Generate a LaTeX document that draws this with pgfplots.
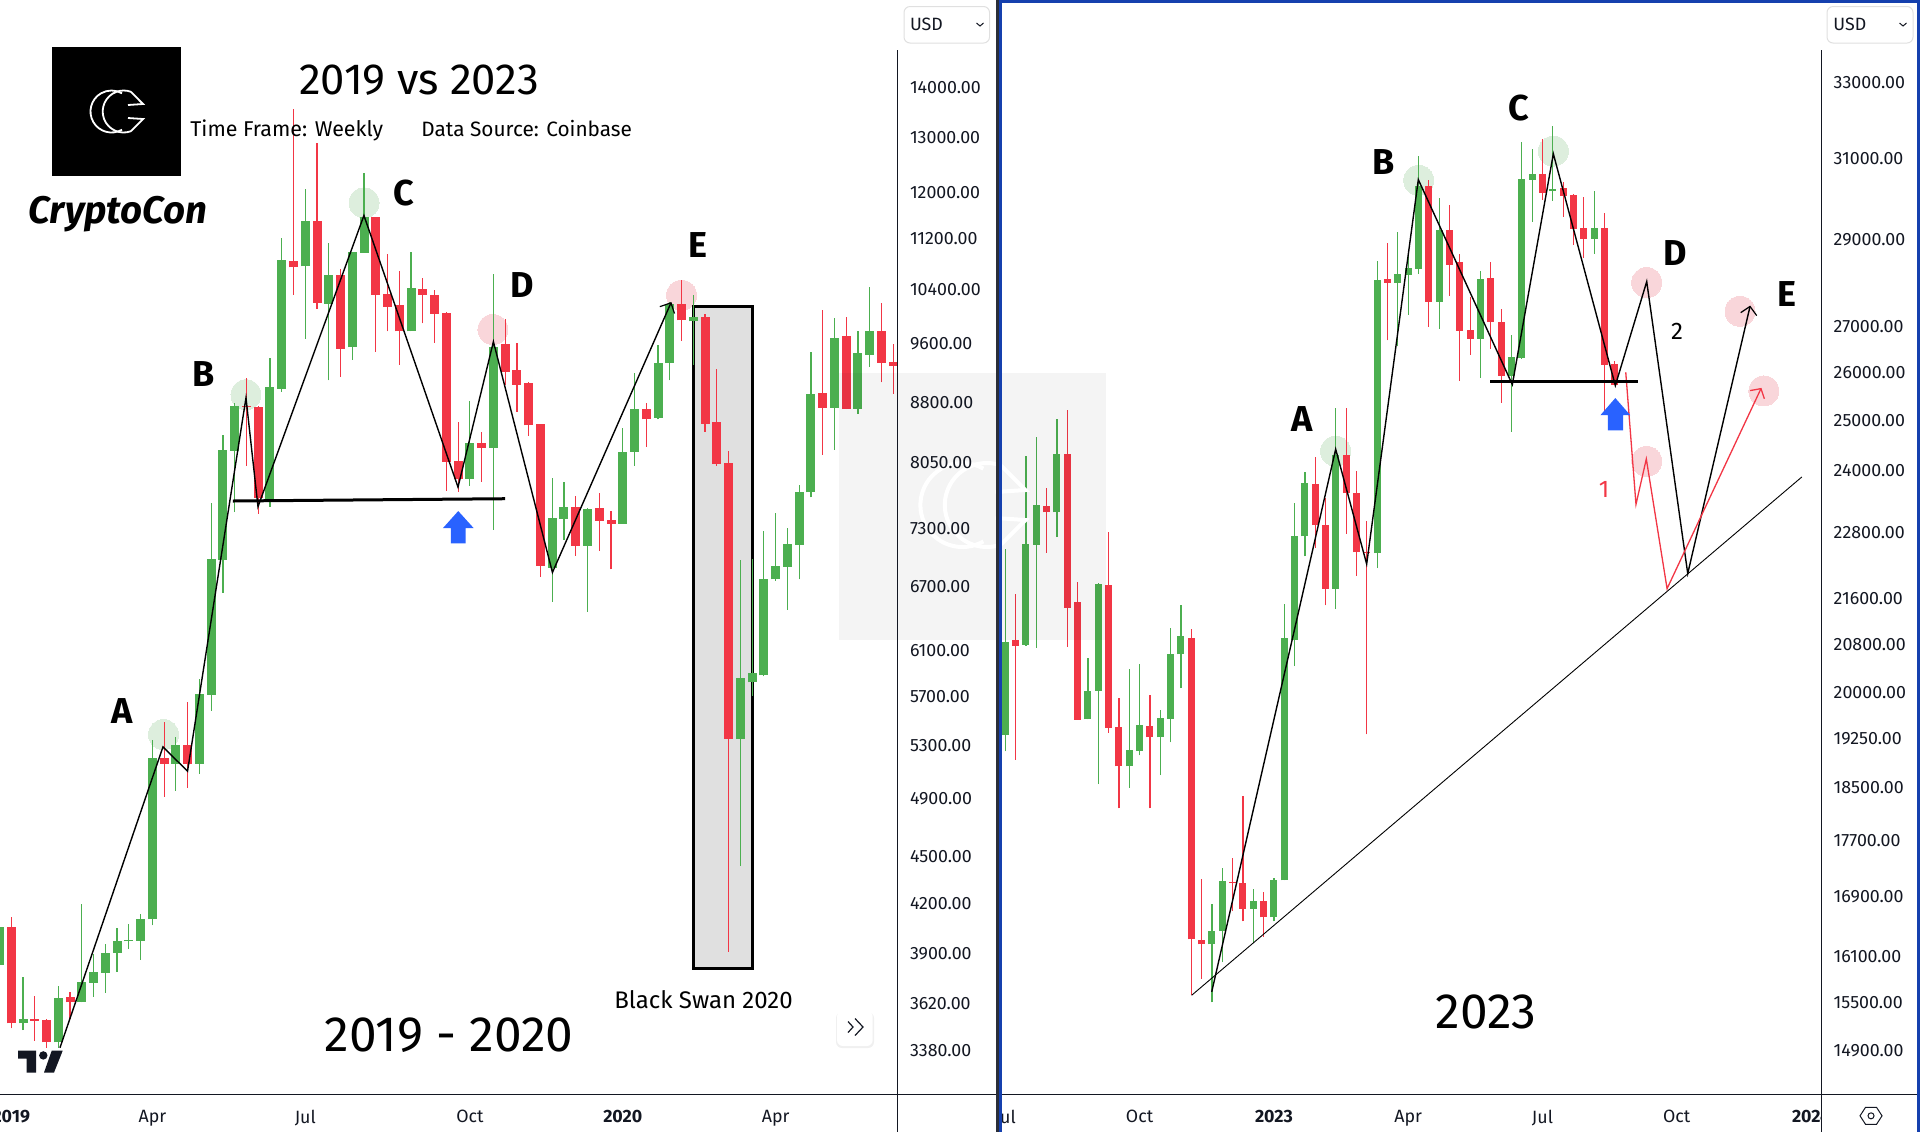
\documentclass[border=0pt]{standalone}
\usepackage{fontspec}
\setmainfont{Fira Sans}
\usepackage{pgfplots}
\usepackage{pgfplotstable}
\pgfplotsset{compat=1.18}
\definecolor{cgreen}{HTML}{4CAF50}
\definecolor{cred}{HTML}{F23645}
\definecolor{cblue}{HTML}{2962FF}
\definecolor{cgc}{HTML}{DDEEDD}
\definecolor{cpc}{HTML}{F9D6DA}
\definecolor{cframe}{HTML}{1540AE}
\definecolor{darkf}{HTML}{2A2E39}
\definecolor{ink}{HTML}{131722}
% x low high bodylow bodyhigh
\pgfplotstableread{
x low high blow bhigh
0 3833 4049 3833 4049
2 3480 3766 3515 3540
5 3390 3716 3417 3649
7 3625 4193 3625 3738
8 3656 3895 3731 3793
9 3677 3953 3788 3900
10 3794 4043 3900 3971
11 3923 4067 3967 3977
12 3861 4133 3971 4103
13 4061 5343 4097 5202
15 4955 5367 5157 5302
17 5082 5840 5157 5718
18 5577 7579 5709 6979
19 6637 8383 6962 8195
20 7476 8785 8183 8748
23 7536 9391 7612 8999
24 8931 11213 8972 10853
26 9659 12054 10744 11483
28 9080 11128 10169 10603
30 9364 10979 9535 10979
31 10963 12326 10963 11550
35 9761 10979 9761 10415
40 7776 8810 7857 8283
42 7287 10618 8220 9543
47 6548 7868 6889 7417
48 7178 7822 7406 7536
50 6455 7525 7113 7514
53 7352 8471 7352 8172
54 8008 9181 8172 8710
56 8572 9572 8597 9323
57 9080 10198 9315 10169
59 9296 10305 9908 9979
63 4437 6969 5347 5848
64 5701 6979 5814 5892
65 5866 7276 5875 6778
66 6758 7465 6768 6909
67 6474 7308 6899 7135
68 6768 7787 7124 7699
69 7641 9472 7699 8904
71 8195 9951 8723 9674
73 8647 9761 8710 9458
74 9269 10430 9431 9761
}\leftup
\pgfplotstableread{
x low high blow bhigh
1 3489 4112 3515 4049
3 3426 3660 3529 3540
4 3390 3540 3417 3534
6 3536 3683 3625 3655
14 4910 5480 5157 5202
16 4978 5650 5157 5302
21 8008 9107 8735 8748
22 7460 8748 7635 8735
25 10305 13564 10728 10838
27 10096 12899 10183 11483
29 9127 10697 9514 10603
32 9472 11550 10305 11550
33 9761 10947 10125 10321
34 9296 10666 9761 10154
36 9878 10556 10305 10399
37 9601 10383 10023 10305
38 7717 10052 8055 10038
39 7705 8534 7857 8067
41 7822 8421 8220 8283
43 9026 9938 9188 9586
44 8672 9601 9026 9215
45 8371 9066 8496 9040
46 6798 8509 6909 8509
49 7010 7659 7113 7536
51 7060 7694 7384 7525
52 6869 7493 7352 7395
55 8233 8785 8572 8710
58 9630 10532 9923 10169
60 8421 10014 8521 9979
61 8008 9229 8025 8534
62 3906 8176 5347 8043
70 8137 10081 8723 8918
72 8704 9965 8704 9703
75 9053 10183 9323 9761
76 8904 9586 9283 9337
}\leftdown
\pgfplotstableread{
x low high blow bhigh
0 19043 22489 19296 20836
2 20766 24276 20784 22583
3 20732 24660 22564 23318
5 22704 25028 23173 24315
8 19550 20564 19550 20014
9 18535 21873 20014 21855
12 18481 20380 18811 19064
13 18980 20464 19055 19464
15 18673 19704 19262 19576
16 19186 21079 19560 20630
17 20054 21478 20619 20940
20 15494 16791 16249 16432
21 16013 17304 16426 17121
24 16269 17008 16735 16838
26 16559 17163 16613 17135
27 17129 21496 17129 20905
28 20422 23355 20871 22734
29 22349 23962 22721 23747
32 21402 25253 21764 24296
36 22133 28495 22407 28056
38 26555 29184 27986 28195
39 27260 28750 28171 28333
40 28195 31061 28310 30307
42 26949 30005 27549 29232
46 25886 28264 26726 28079
49 24762 26815 25928 26333
50 26290 31421 26312 30484
51 29425 31238 30458 30609
53 29931 31840 30164 30232
57 28657 30181 29015 29280
}\rightup
\pgfplotstableread{
x low high blow bhigh
1 18917 21674 20766 20857
4 22416 23648 23173 23299
6 20749 25212 21426 24315
7 19544 21891 19544 21530
10 19336 22809 19416 21837
11 18170 19897 18811 19432
14 18170 19947 19262 19448
18 15583 21062 16315 20905
19 15797 17148 16249 16310
22 16697 17446 17093 17107
23 16559 18358 16735 17093
25 16350 16965 16613 16838
30 22511 24256 22928 23727
31 21466 23451 21764 22941
33 22771 25253 23540 24296
34 22000 23982 22421 23540
35 19309 23000 22416 22434
37 26688 28919 27986 28079
41 26993 30458 27549 30307
43 27686 29834 28403 29232
44 25822 28657 26904 28472
45 26376 27662 26726 26926
47 26504 28472 27104 28102
48 25356 27393 25928 27104
52 29955 31500 30131 30609
54 29545 30408 30056 30257
55 28870 30106 29256 30081
56 28565 30030 29015 29280
58 25151 29642 26163 29280
59 25737 26248 25737 26184
}\rightdown
\newcommand\candles[3]{%
  \addplot[draw=none,mark=none,forget plot,error bars/.cd,y dir=plus,y explicit,error mark=none,
    error bar style={line width=0.6pt,color=#2,line cap=butt}]
    table[x=x,y=low,y error plus expr=\thisrow{high}-\thisrow{low}]{#1};
  \addplot[draw=none,mark=none,forget plot,error bars/.cd,y dir=plus,y explicit,error mark=none,
    error bar style={line width=#3,color=#2,line cap=butt}]
    table[x=x,y=blow,y error plus expr=\thisrow{bhigh}-\thisrow{blow}]{#1};
}
\pgfplotsset{tvaxis/.style={
  scale only axis,height=547.25pt,
  axis line style={draw=none},major tick length=0pt,minor tick length=0pt,
  ytick pos=right,yticklabel pos=right,xtick pos=bottom,
  tick label style={font=\fontsize{8.9}{10}\selectfont,text=ink},
  yticklabel style={anchor=west,inner sep=0pt},
  xticklabel style={anchor=north,inner sep=0pt,yshift=-7.8pt},
  clip=true,clip marker paths=true,
}}
% CC mark: centre x, centre y, scale, line width
\newcommand\ccmark[4]{%
 \begin{scope}[shift={(#1,#2)},scale=#3,line width=#4,line join=miter]
  \draw (-5.3,0) ++(60:21) arc[start angle=60,end angle=300,radius=21];
  \draw (6.9,0) ++(70:21) arc[start angle=70,end angle=290,radius=21];
  \draw (14.1,19.7) -- (26.2,7.5) -- (11.2,6.5);
  \draw (14.1,-19.7) -- (26.2,-7.5) -- (11.2,-6.5);
 \end{scope}}
\begin{document}
\begin{tikzpicture}
\useasboundingbox (0,0) rectangle (960pt,-566pt);
\fill[white] (0,0) rectangle (960pt,-566pt);
% watermark in the price scale, under the labels
\begin{scope}[x=0.5pt,y=-0.5pt]
 \fill[black!4.5] (897,373) rectangle (996,640);
 \begin{scope}
  \clip (897,373) rectangle (996,640);
  \begin{scope}[white]\ccmark{973}{505}{2}{2pt}\end{scope}
 \end{scope}
\end{scope}
% LEFT PANEL
\begin{axis}[tvaxis,ymode=log,at={(0pt,-547.25pt)},anchor=south west,width=448.5pt,
  xmin=0.0425,xmax=76.32,ymin=3164.5,ymax=15926,
  xtick={1,13,26,40,53,66},xticklabels={\textbf{2019},Apr,Jul,Oct,\textbf{2020},Apr},
  ytick={14000,13000,12000,11200,10400,9600,8800,8050,7300,6700,6100,5700,5300,4900,4500,4200,3900,3620,3380},
  yticklabels={14000.00,13000.00,12000.00,11200.00,10400.00,9600.00,8800.00,8050.00,7300.00,6700.00,6100.00,5700.00,5300.00,4900.00,4500.00,4200.00,3900.00,3620.00,3380.00},
  yticklabel style={xshift=6.3pt,yshift=-0.3pt}]
\addplot[only marks,mark=*,mark size=7.5pt,draw=cgc,fill=cgc,mark options={draw=cgc,fill=cgc,line width=0pt}] coordinates {(13.95,5383)(20.96,8891)(31,11803)};
\addplot[only marks,mark=*,mark size=7.5pt,draw=cpc,fill=cpc,mark options={draw=cpc,fill=cpc,line width=0pt}] coordinates {(41.96,9790)(58,10297)};
\addplot[draw=black,fill=black!12,line width=1.6pt,line cap=rect,line join=miter] coordinates {(59.01,10132)(64.03,10132)(64.03,3811)(59.01,3811)(59.01,10132)};
\candles{\leftup}{cgreen}{4.5pt}
\candles{\leftdown}{cred}{4.5pt}
\addplot[black,line width=0.7pt,line join=miter] coordinates {(5.14,3390)(13.9,5286)(15.99,5100)(20.96,8850)(21.98,7536)(30.99,11584)(38.99,7758)(42,9615)(47.02,6839)(57.1,10183)};
\addplot[black,line width=0.6pt] coordinates {(56.15,10125)(57.1,10183)(57.4,10023)};
\addplot[black,line width=1.5pt] coordinates {(19.85,7601)(43,7626)};
\addplot[draw=none,fill=cblue] coordinates {(37.71,7302)(39.01,7489)(40.32,7302)(39.64,7302)(39.64,7139)(38.39,7139)(38.39,7302)(37.71,7302)};
\end{axis}
% RIGHT PANEL
\begin{axis}[tvaxis,ymode=log,at={(501pt,-547.25pt)},anchor=south west,width=409.85pt,
  xmin=-0.32,xmax=79.03,ymin=14365,ymax=35306,
  xtick={0,13,26,39,52,65,78},xticklabels={Jul,Oct,\textbf{2023},Apr,Jul,Oct,\textbf{2024}},
  ytick={33000,31000,29000,27000,26000,25000,24000,22800,21600,20800,20000,19250,18500,17700,16900,16100,15500,14900},
  yticklabels={33000.00,31000.00,29000.00,27000.00,26000.00,25000.00,24000.00,22800.00,21600.00,20800.00,20000.00,19250.00,18500.00,17700.00,16900.00,16100.00,15500.00,14900.00},
  yticklabel style={xshift=5.8pt,yshift=-0.3pt}]
\addplot[only marks,mark=*,mark size=7.5pt,draw=cgc,fill=cgc,mark options={draw=cgc,fill=cgc,line width=0pt}] coordinates {(31.98,24366)(40.02,30440)(53.05,31179)};
\addplot[only marks,mark=*,mark size=7.5pt,draw=cpc,fill=cpc,mark options={draw=cpc,fill=cpc,line width=0pt}] coordinates {(62.09,27987)(62.09,24164)(71.12,27333)(73.43,25602)};
\candles{\rightup}{cgreen}{3.5pt}
\candles{\rightdown}{cred}{3.5pt}
\addplot[black,line width=0.45pt] coordinates {(18.04,15583)(77.1,23854)};
\addplot[black,line width=0.7pt,line join=miter] coordinates {(19.98,15628)(31.98,24406)(34.98,22208)(39.98,30458)(49.08,25737)(53.05,31111)(59.05,25716)(62.09,28010)(66.06,22036)(72.09,27444)};
\addplot[black,line width=0.6pt] coordinates {(71.19,27304)(72.09,27444)(72.74,27237)};
\addplot[cred,line width=0.65pt,line join=miter] coordinates {(60.06,25998)(61.05,23323)(62.05,24211)(64.06,21764)(73.15,25651)};
\addplot[cred,line width=0.65pt] coordinates {(72.09,25609)(73.15,25651)(73.48,25438)};
\addplot[black,line width=1.5pt] coordinates {(46.92,25794)(61.22,25794)};
\addplot[draw=none,fill=cblue] coordinates {(57.6,25096)(59.05,25453)(60.5,25096)(59.8,25096)(59.8,24789)(58.34,24789)(58.34,25096)(57.6,25096)};
\end{axis}
% OVERLAY, pixel coordinates
\begin{scope}[x=0.5pt,y=-0.5pt]
 \fill[black,opacity=0.045] (839,373) rectangle (897,640);
 \fill[black,opacity=0.045] (1002,373) rectangle (1106,640);
 \begin{scope}
  \clip (1002,373) rectangle (1106,640);
  \begin{scope}[white]\ccmark{973}{505}{2}{2pt}\end{scope}
 \end{scope}
 % masks for clipped tick labels
 \fill[white] (898,1096) rectangle (996,1132);
 \fill[white] (1822.3,1096) rectangle (1917,1132);
 % chrome
 \draw[ink,line width=0.5pt] (897,50) -- (897,1132);
 \draw[ink,line width=0.5pt] (1821.7,50) -- (1821.7,1132);
 \draw[ink,line width=0.5pt] (0,1094.5) -- (996,1094.5);
 \draw[ink,line width=0.5pt] (1002,1094.5) -- (1917,1094.5);
 \fill[darkf] (996,0) rectangle (999,1132);
 \fill[cframe] (999,0) rectangle (1002,1132);
 \fill[cframe] (999,0) rectangle (1920,3);
 \fill[cframe] (1917,0) rectangle (1920,1132);
 % USD boxes
 \draw[black!12,line width=0.5pt,fill=white,rounded corners=3pt] (904,6.5) rectangle (989.5,43);
 \draw[black!12,line width=0.5pt,fill=white,rounded corners=3pt] (1827,6.5) rectangle (1913,43);
 \node[anchor=west,inner sep=0pt,text=ink,font=\fontsize{8.9}{10}\selectfont] at (909.6,24.5) {USD};
 \node[anchor=west,inner sep=0pt,text=ink,font=\fontsize{8.9}{10}\selectfont] at (1833,24.5) {USD};
 \draw[ink,line width=0.5pt] (976.5,23) -- (980,26) -- (983.5,23);
 \draw[ink,line width=0.5pt] (1899.5,23) -- (1903,26) -- (1906.5,23);
 % scroll button
 \fill[black,opacity=0.06,rounded corners=3pt] (836,1012) rectangle (874,1048);
 \fill[white,rounded corners=3pt] (837,1010.6) rectangle (872.7,1046);
 \draw[ink,line width=0.6pt] (848,1021.5) -- (853,1027) -- (848,1032.5);
 \draw[ink,line width=0.6pt] (855,1018.5) -- (863,1027) -- (855,1035.5);
 % settings icon
 \draw[ink,line width=0.5pt] (1860,1115.8) -- (1865.5,1107.3) -- (1876.5,1107.3) -- (1882,1115.8) -- (1876.5,1124.3) -- (1865.5,1124.3) -- cycle;
 \draw[ink,line width=0.5pt] (1871,1115.8) circle[radius=3];
 % TV logo
 \fill[ink] (18,1050.7) -- (36,1050.7) -- (36,1072.6) -- (26.7,1072.6) -- (26.7,1058.7) -- (18,1058.7) -- cycle;
 \fill[ink] (43.3,1055.4) circle[radius=4.2];
 \fill[ink] (51.7,1050.7) -- (62.7,1050.7) -- (54,1072.6) -- (44,1072.6) -- cycle;
 % black logo
 \fill[black] (52,47) rectangle (181,176);
 \begin{scope}[white]\ccmark{116.8}{111.5}{1}{0.9pt}\end{scope}
 % texts
 \node[font=\bfseries\itshape\fontsize{19.2}{22}\selectfont] at (118,214) {CryptoCon};
 \node[font=\fontsize{21.8}{26}\selectfont] at (419,80) {2019 vs 2023};
 \node[font=\fontsize{10.7}{12}\selectfont,anchor=base west,inner sep=0pt] at (190,136.5) {Time Frame: Weekly};
 \node[font=\fontsize{10.4}{12}\selectfont,anchor=base west,inner sep=0pt] at (421,136.5) {Data Source: Coinbase};
 \node[font=\fontsize{24.8}{28}\selectfont] at (449,1035) {2019 - 2020};
 \node[font=\fontsize{24.8}{28}\selectfont] at (1486,1012) {2023};
 \node[font=\fontsize{12}{14}\selectfont] at (703.5,1000) {Black Swan 2020};
 \begin{scope}[font=\bfseries\fontsize{18}{20}\selectfont]
  \node at (122,711) {A};
  \node at (203.7,374) {B};
  \node at (403.7,193) {C};
  \node at (522.6,285) {D};
  \node at (698,245) {E};
  \node at (1301.7,419) {A};
  \node at (1383.7,161.7) {B};
  \node at (1518.7,108) {C};
  \node at (1674.7,253) {D};
  \node at (1787,294.5) {E};
 \end{scope}
 \node[font=\fontsize{12}{14}\selectfont] at (1677,331) {2};
 \node[font=\fontsize{12}{14}\selectfont,text=cred] at (1604,489) {1};
\end{scope}
\end{tikzpicture}
\end{document}
